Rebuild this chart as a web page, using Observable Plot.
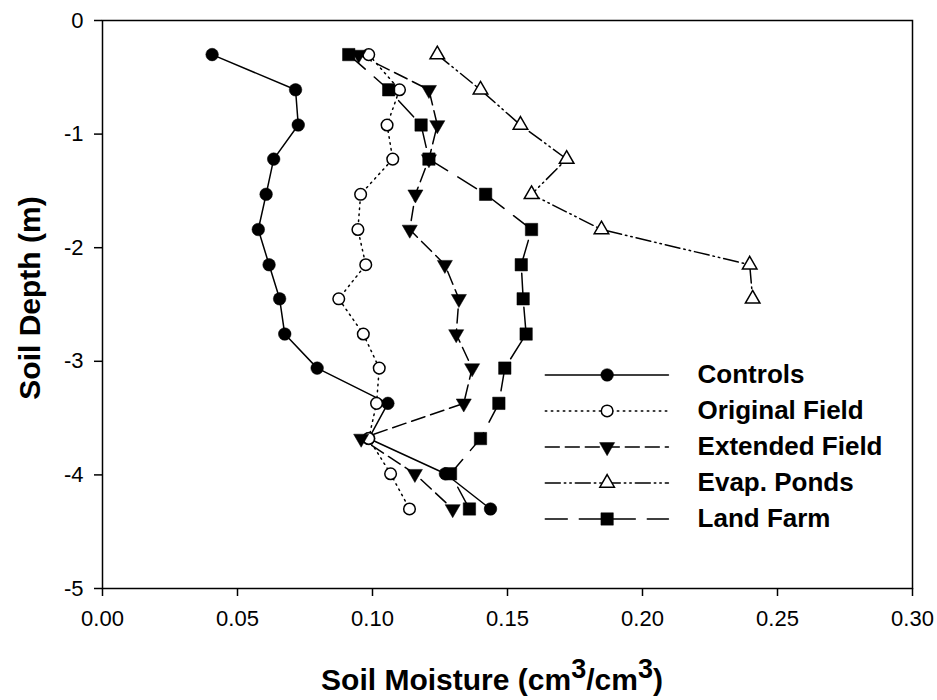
<!DOCTYPE html>
<html><head><meta charset="utf-8">
<script src="https://cdn.jsdelivr.net/npm/d3@7"></script>
<script src="https://cdn.jsdelivr.net/npm/@observablehq/plot@0.6"></script>
<style>
body{margin:0;background:#fff;}
#chart{position:relative;width:937px;height:700px;}
</style>
</head><body><div id="chart"></div>
<script>
// Depths (m)
const depth = [-0.30, -0.61, -0.92, -1.22, -1.53, -1.84, -2.15, -2.45, -2.76, -3.06, -3.37, -3.68, -3.99, -4.30];
// Soil moisture (cm3/cm3) per series
const controls      = [0.0406, 0.0715, 0.0725, 0.0634, 0.0606, 0.0577, 0.0617, 0.0656, 0.0675, 0.0795, 0.1057, 0.0986, 0.1270, 0.1437];
const originalField = [0.0986, 0.1100, 0.1054, 0.1075, 0.0956, 0.0946, 0.0975, 0.0875, 0.0966, 0.1025, 0.1015, 0.0986, 0.1067, 0.1137];
const extendedField = [0.0949, 0.1209, 0.1240, 0.1209, 0.1159, 0.1138, 0.1268, 0.1320, 0.1310, 0.1369, 0.1338, 0.0958, 0.1157, 0.1297];
const evapPonds     = [0.1240, 0.1400, 0.1548, 0.1719, 0.1589, 0.1848, 0.2397, 0.2408];
const landFarm      = [0.0912, 0.1060, 0.1180, 0.1209, 0.1419, 0.1589, 0.1551, 0.1558, 0.1569, 0.1490, 0.1468, 0.1400, 0.1289, 0.1359];

const seriesNames = ["Controls", "Original Field", "Extended Field", "Evap. Ponds", "Land Farm"];
const seriesValues = [controls, originalField, extendedField, evapPonds, landFarm];
const xTicks = [0, 0.05, 0.10, 0.15, 0.20, 0.25, 0.30];
const yTicks = [0, -1, -2, -3, -4, -5];

const triangleDown = {
  draw(context, size) {
    const s3 = Math.sqrt(3);
    const y = Math.sqrt(size / (s3 * 3));
    context.moveTo(0, y * 2);
    context.lineTo(-s3 * y, -y);
    context.lineTo(s3 * y, -y);
    context.closePath();
  }
};

const styles = [
  {symbol: "circle",   fill: "black", r: 6.3, dash: null},
  {symbol: "circle",   fill: "white", r: 5.8, dash: "1.5,4.5"},
  {symbol: triangleDown, fill: "black", r: 5.6, dash: "14,6"},
  {symbol: "triangle", fill: "white", r: 5.4, dash: "15,4,1.5,4,1.5,4"},
  {symbol: "square",   fill: "black", r: 7.0, dash: "22,12"}
];

const tables = seriesValues.map((vals, i) =>
  vals.map((v, j) => ({series: seriesNames[i], x: v, y: depth[j]})));

// legend layout (in data units)
const legX0 = 0.164, legX1 = 0.2096, legXM = 0.1869, legXT = 0.2204;
const legTop = -3.12, legStep = 0.317;

const marks = [];
tables.forEach((t, i) => {
  const s = styles[i];
  marks.push(Plot.line(t, {x: "x", y: "y", stroke: "black", strokeWidth: 1.5,
    strokeDasharray: s.dash || undefined}));
});
tables.forEach((t, i) => {
  const s = styles[i];
  marks.push(Plot.dot(t, {x: "x", y: "y", symbol: () => s.symbol, r: s.r, fill: s.fill,
    stroke: "black", strokeWidth: s.fill === "white" ? 1.5 : 0.5}));
});
// legend
seriesNames.forEach((name, i) => {
  const s = styles[i];
  const y = legTop - i * legStep;
  marks.push(Plot.line([{x: legX0, y}, {x: legX1, y}], {x: "x", y: "y", stroke: "black", strokeWidth: 1.5,
    strokeDasharray: s.dash || undefined}));
  marks.push(Plot.dot([{x: legXM, y}], {x: "x", y: "y", symbol: () => s.symbol, r: s.r, fill: s.fill,
    stroke: "black", strokeWidth: s.fill === "white" ? 1.5 : 0.5}));
  marks.push(Plot.text([{x: legXT, y, name}], {x: "x", y: "y", text: "name", textAnchor: "start",
    fontSize: 26, fontWeight: "bold", fill: "black"}));
});
marks.push(Plot.frame({stroke: "black", strokeWidth: 1.5}));

const plot = Plot.plot({
  width: 937, height: 700,
  marginLeft: 102, marginRight: 25, marginTop: 20, marginBottom: 112,
  style: {fontSize: "22px", fontFamily: "'Liberation Sans', Arial, sans-serif", color: "black", background: "white"},
  x: {domain: [0, 0.3], ticks: xTicks, tickFormat: d => d.toFixed(2), label: null, tickSize: 8, tickPadding: 14},
  y: {domain: [-5, 0], ticks: yTicks, tickFormat: d => String(d), label: null, tickSize: 8, tickPadding: 11},
  marks
});

const svg = d3.select(plot);
svg.selectAll("[aria-label^='x-axis'] line, [aria-label^='y-axis'] line, g[aria-label$='tick'] path").attr("stroke-width", 1.5);

// axis titles
const xt = svg.append("text")
  .attr("x", 492).attr("y", 690)
  .attr("text-anchor", "middle")
  .attr("font-family", "'Liberation Sans', Arial, sans-serif")
  .attr("font-size", 30).attr("font-weight", "bold").attr("fill", "black");
xt.append("tspan").text("Soil Moisture (cm");
xt.append("tspan").attr("dy", -12).attr("font-size", 27).text("3");
xt.append("tspan").attr("dy", 12).text("/cm");
xt.append("tspan").attr("dy", -12).attr("font-size", 27).text("3");
xt.append("tspan").attr("dy", 12).text(")");

svg.append("text")
  .attr("transform", "translate(40,298) rotate(-90)")
  .attr("text-anchor", "middle")
  .attr("font-family", "'Liberation Sans', Arial, sans-serif")
  .attr("font-size", 30).attr("font-weight", "bold").attr("fill", "black")
  .text("Soil Depth (m)");

document.getElementById("chart").appendChild(plot);
</script>
</body></html>
